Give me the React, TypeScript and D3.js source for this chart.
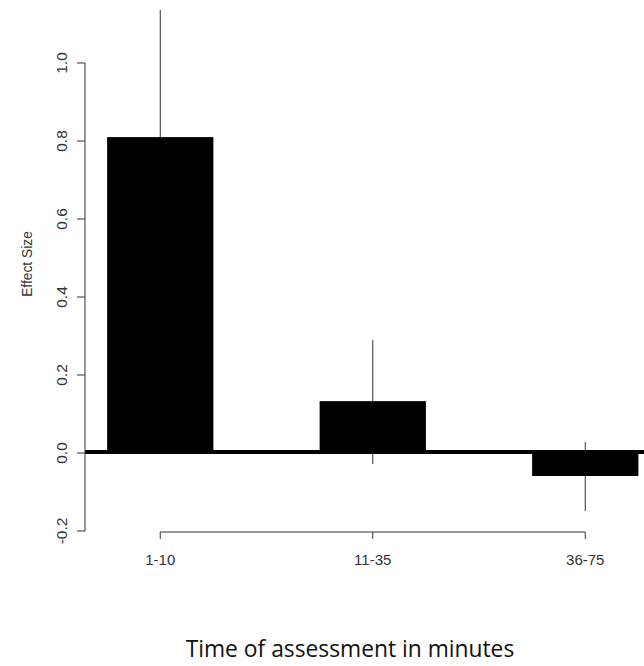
import React from "react";
import * as d3 from "d3";

const categories = ["1-10", "11-35", "36-75"];
const effectSizes = [0.81, 0.133, -0.059];
const errorUpper = [1.136, 0.29, 0.028];
const errorLower = [0.484, -0.028, -0.149];
const yTicks = [-0.2, 0, 0.2, 0.4, 0.6, 0.8, 1.0];

const W = 644;
const H = 666;

export default function App() {
  const y = d3.scaleLinear().domain([0, 1.0]).range([453, 63]);
  const x = d3
    .scaleBand<string>()
    .domain(categories)
    .range([54, 691.5])
    .paddingInner(0.5)
    .paddingOuter(0.25);
  const bw = x.bandwidth();
  const cx = (c: string) => (x(c) as number) + bw / 2;
  const axisX = 85;
  const axisY = y(-0.2) + 1;
  const font = "'Liberation Sans', Arial, sans-serif";

  return (
    <svg
      width={W}
      height={H}
      style={{ position: "absolute", left: 0, top: 0, background: "#fff" }}
    >
      {/* error bars (drawn beneath the bars) */}
      {categories.map((c, i) => (
        <line
          key={"e" + c}
          x1={cx(c)}
          x2={cx(c)}
          y1={y(errorUpper[i])}
          y2={y(errorLower[i])}
          stroke="#333"
          strokeWidth={1}
        />
      ))}
      {/* bars */}
      {categories.map((c, i) => {
        const v = effectSizes[i];
        const y0 = y(Math.max(0, v));
        const y1 = y(Math.min(0, v));
        return (
          <rect key={c} x={x(c)} y={y0} width={bw} height={y1 - y0} fill="#000" />
        );
      })}
      {/* zero line */}
      <line x1={axisX} x2={W} y1={y(0) - 1} y2={y(0) - 1} stroke="#000" strokeWidth={4} />
      {/* y axis */}
      <line x1={axisX} x2={axisX} y1={y(1.0)} y2={y(-0.2)} stroke="#333" strokeWidth={1} />
      {yTicks.map((t) => (
        <g key={t}>
          <line x1={axisX - 8} x2={axisX} y1={y(t)} y2={y(t)} stroke="#333" strokeWidth={1} />
          <text
            transform={`translate(67,${y(t)}) rotate(-90)`}
            textAnchor="middle"
            fontFamily={font}
            fontSize={15.5}
            fill="#333"
          >
            {t.toFixed(1)}
          </text>
        </g>
      ))}
      <text
        transform={`translate(32,264) rotate(-90)`}
        textAnchor="middle"
        fontFamily={font}
        fontSize={13.8}
        fill="#333"
      >
        Effect Size
      </text>
      {/* x axis */}
      <line
        x1={cx(categories[0])}
        x2={cx(categories[categories.length - 1])}
        y1={axisY}
        y2={axisY}
        stroke="#333"
        strokeWidth={1}
      />
      {categories.map((c) => (
        <g key={"t" + c}>
          <line x1={cx(c)} x2={cx(c)} y1={axisY} y2={axisY + 7} stroke="#333" strokeWidth={1} />
          <text
            x={cx(c)}
            y={565}
            textAnchor="middle"
            fontFamily={font}
            fontSize={15}
            fill="#333"
          >
            {c}
          </text>
        </g>
      ))}
      <text
        x={350}
        y={657}
        textAnchor="middle"
        fontFamily="'Open Sans', sans-serif"
        fontSize={22.8}
        fill="#111"
      >
        Time of assessment in minutes
      </text>
    </svg>
  );
}
